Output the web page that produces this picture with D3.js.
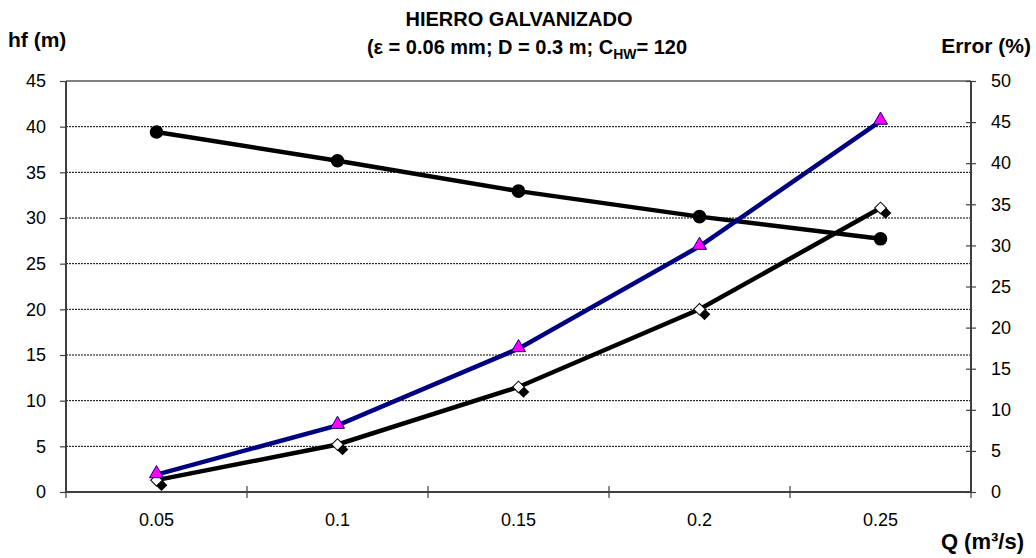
<!DOCTYPE html>
<html lang="es">
<head>
<meta charset="utf-8">
<script src="https://d3js.org/d3.v7.min.js"></script>
<style>
  body { margin: 0; background: #fff; }
  text { font-family: "Liberation Sans", Arial, sans-serif; fill: #000; }
</style>
</head>
<body>
<div id="chart"></div>
<script>
// datos
var caudales = ["0.05", "0.1", "0.15", "0.2", "0.25"];
var hfTriangulo = [1.9, 7.3, 15.7, 26.9, 40.6];
var hfRombo = [1.3, 5.2, 11.5, 20.0, 31.1];
var errorPct = [43.8, 40.3, 36.6, 33.5, 30.8];
var ticksIzq = [0, 5, 10, 15, 20, 25, 30, 35, 40, 45];
var ticksDer = [0, 5, 10, 15, 20, 25, 30, 35, 40, 45, 50];

var W = 1036, H = 558;
var mIzq = 66, mDer = 971, mSup = 81, mInf = 492;

var svg = d3.select("#chart").append("svg")
  .attr("width", W)
  .attr("height", H);

var x = d3.scaleBand().domain(caudales).range([mIzq, mDer]);
var yL = d3.scaleLinear().domain([0, 45]).range([mInf, mSup]);
var yR = d3.scaleLinear().domain([0, 50]).range([mInf, mSup]);
var cx = function(q) { return x(q) + x.bandwidth() / 2; };

// lineas de division punteadas
svg.selectAll("line.grid")
  .data(ticksIzq.filter(function(d) { return d > 0 && d < 45; }))
  .enter().append("line")
  .attr("x1", mIzq).attr("x2", mDer)
  .attr("y1", function(d) { return yL(d); })
  .attr("y2", function(d) { return yL(d); })
  .attr("stroke", "#000")
  .attr("stroke-width", 1)
  .attr("stroke-dasharray", "2,1");

// borde superior
svg.append("line")
  .attr("x1", mIzq).attr("x2", mDer)
  .attr("y1", mSup).attr("y2", mSup)
  .attr("stroke", "#808080").attr("stroke-width", 2);

// ejes
var ejeIzq = d3.axisLeft(yL).tickValues(ticksIzq).tickSize(6).tickPadding(14);
var gL = svg.append("g").attr("transform", "translate(" + mIzq + ",0)").call(ejeIzq);

var ejeDer = d3.axisRight(yR).tickValues(ticksDer).tickSize(6).tickPadding(14);
var gR = svg.append("g").attr("transform", "translate(" + mDer + ",0)").call(ejeDer);

var ejeX = d3.axisBottom(x).tickSize(0).tickPadding(21);
var gX = svg.append("g").attr("transform", "translate(0," + mInf + ")").call(ejeX);

[gL, gR, gX].forEach(function(g) {
  g.select(".domain").attr("stroke", "#404040").attr("stroke-width", 2);
  g.selectAll(".tick line").attr("stroke", "#404040").attr("stroke-width", 1.2);
  g.selectAll("text").style("font-size", "18px").attr("fill", "#000")
    .style("font-family", '"Liberation Sans", Arial, sans-serif');
});
gL.select(".domain").attr("d", "M0," + mInf + "V" + mSup);
gR.select(".domain").attr("d", "M0," + mInf + "V" + mSup);
gX.select(".domain").attr("d", "M" + mIzq + ",0H" + mDer);

// marcas cruzadas en el eje derecho
gR.selectAll(".tick line").attr("x1", -5).attr("x2", 5);

// marcas del eje x entre categorias
var limites = d3.range(0, caudales.length + 1).map(function(i) { return mIzq + i * x.step(); });
svg.selectAll("line.xtick")
  .data(limites)
  .enter().append("line")
  .attr("x1", function(d) { return d; }).attr("x2", function(d) { return d; })
  .attr("y1", mInf - 6).attr("y2", mInf + 6)
  .attr("stroke", "#404040").attr("stroke-width", 1.2);

// serie error (%)
var lineaErr = d3.line()
  .x(function(d, i) { return cx(caudales[i]); })
  .y(function(d) { return yR(d); });
svg.append("path")
  .attr("d", lineaErr(errorPct))
  .attr("fill", "none").attr("stroke", "#000").attr("stroke-width", 4.5);
svg.selectAll("circle.err")
  .data(errorPct)
  .enter().append("circle")
  .attr("cx", function(d, i) { return cx(caudales[i]); })
  .attr("cy", function(d) { return yR(d); })
  .attr("r", 6.8)
  .attr("fill", "#000");

// serie rombos
var lineaL = d3.line()
  .x(function(d, i) { return cx(caudales[i]); })
  .y(function(d) { return yL(d); });
svg.append("path")
  .attr("d", lineaL(hfRombo))
  .attr("fill", "none").attr("stroke", "#000").attr("stroke-width", 4.5);
var rombo = d3.symbol().type(d3.symbolSquare).size(68);
svg.selectAll("path.sombra")
  .data(hfRombo)
  .enter().append("path")
  .attr("d", rombo)
  .attr("transform", function(d, i) {
    return "translate(" + (cx(caudales[i]) + 5) + "," + (yL(d) + 5) + ") rotate(45)";
  })
  .attr("fill", "#000");
svg.selectAll("path.rombo")
  .data(hfRombo)
  .enter().append("path")
  .attr("d", rombo)
  .attr("transform", function(d, i) {
    return "translate(" + cx(caudales[i]) + "," + yL(d) + ") rotate(45)";
  })
  .attr("fill", "#fff").attr("stroke", "#000").attr("stroke-width", 1);

// serie triangulos
svg.append("path")
  .attr("d", lineaL(hfTriangulo))
  .attr("fill", "none").attr("stroke", "#000080").attr("stroke-width", 4.5);
var tri = d3.symbol().type(d3.symbolTriangle).size(85);
svg.selectAll("path.tri")
  .data(hfTriangulo)
  .enter().append("path")
  .attr("d", tri)
  .attr("transform", function(d, i) {
    return "translate(" + cx(caudales[i]) + "," + (yL(d) - 1) + ")";
  })
  .attr("fill", "#ff00ff").attr("stroke", "#000080").attr("stroke-width", 1);

// textos
svg.append("text")
  .attr("x", 519).attr("y", 26)
  .attr("text-anchor", "middle")
  .style("font-size", "20px").style("font-weight", "bold")
  .text("HIERRO GALVANIZADO");

var t2 = svg.append("text")
  .attr("x", 527).attr("y", 54)
  .attr("text-anchor", "middle")
  .style("font-size", "20px").style("font-weight", "bold");
t2.append("tspan").text("(ε = 0.06 mm; D = 0.3 m; C");
t2.append("tspan").attr("dy", 5).style("font-size", "14px").text("HW");
t2.append("tspan").attr("dy", -5).text("= 120");

svg.append("text")
  .attr("x", 8).attr("y", 47)
  .style("font-size", "21px").style("font-weight", "bold")
  .text("hf (m)");

svg.append("text")
  .attr("x", 1031).attr("y", 53)
  .attr("text-anchor", "end")
  .style("font-size", "21px").style("font-weight", "bold")
  .text("Error (%)");

svg.append("text")
  .attr("x", 1024).attr("y", 549)
  .attr("text-anchor", "end")
  .style("font-size", "22px").style("font-weight", "bold")
  .text("Q (m³/s)");
</script>
</body>
</html>
